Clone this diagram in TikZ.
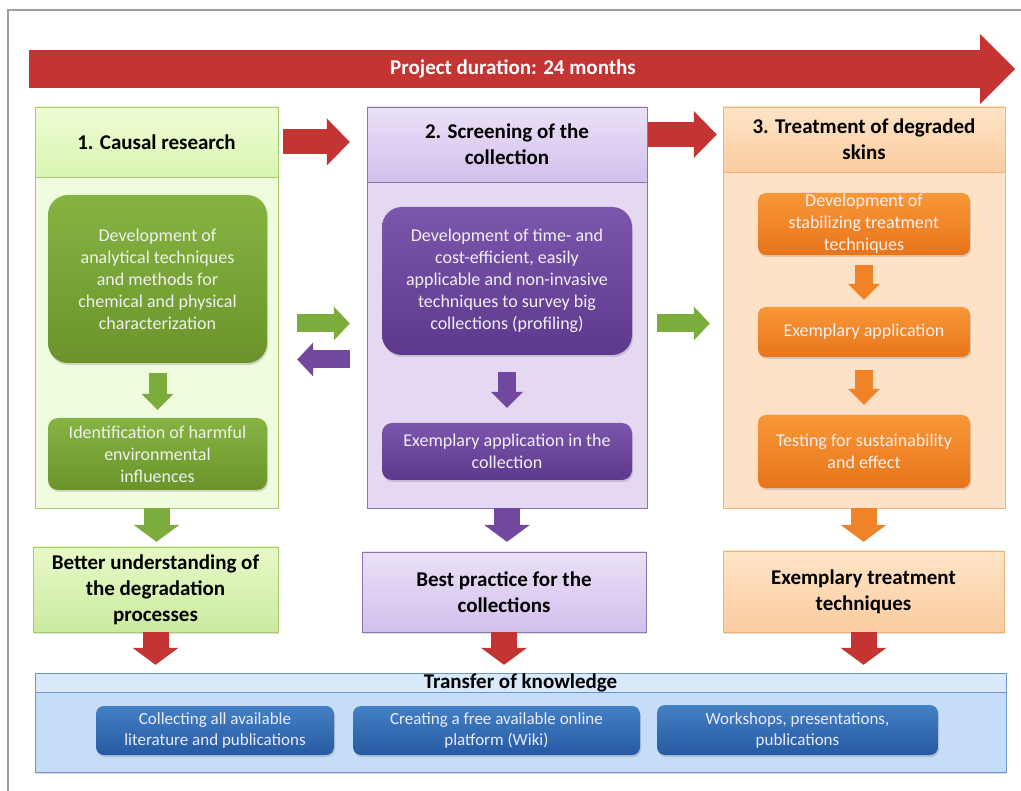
\documentclass[tikz,border=0pt]{standalone}
\usepackage{fontspec}
\setmainfont{Carlito}
\usepackage{tikz}
\usetikzlibrary{arrows.meta,shadows}

\definecolor{arrred}{RGB}{196,52,50}
\definecolor{arrgrn}{RGB}{124,172,60}
\definecolor{arrpur}{RGB}{112,72,160}
\definecolor{arrorg}{RGB}{240,130,40}
\definecolor{grnline}{RGB}{165,205,105}
\definecolor{grnbody}{RGB}{240,252,222}
\definecolor{grnhdtop}{RGB}{238,252,212}
\definecolor{grnhdbot}{RGB}{218,245,178}
\definecolor{grnin}{RGB}{134,180,66}
\definecolor{grnindark}{RGB}{106,148,42}
\definecolor{purline}{RGB}{140,118,178}
\definecolor{purbody}{RGB}{228,216,243}
\definecolor{purhdtop}{RGB}{234,224,247}
\definecolor{purhdbot}{RGB}{210,192,236}
\definecolor{purin}{RGB}{124,86,172}
\definecolor{purindark}{RGB}{94,56,140}
\definecolor{orgline}{RGB}{244,178,120}
\definecolor{orgbody}{RGB}{253,226,200}
\definecolor{orghdtop}{RGB}{254,228,198}
\definecolor{orghdbot}{RGB}{251,204,160}
\definecolor{orgin}{RGB}{248,152,56}
\definecolor{orgindark}{RGB}{232,116,26}
\definecolor{bluline}{RGB}{110,150,205}
\definecolor{blubody}{RGB}{198,221,248}
\definecolor{bluhead}{RGB}{216,233,252}
\definecolor{bluin}{RGB}{68,128,198}
\definecolor{bluindark}{RGB}{38,90,162}

\tikzset{
  box/.style={rectangle, inner sep=0pt, align=center},
  hdr/.style={box, draw, font=\fontsize{21}{26}\selectfont\bfseries},
  inner/.style={box, text=white!94!black, font=\fontsize{18}{22}\selectfont,
    drop shadow={shadow xshift=1pt, shadow yshift=-2pt, opacity=0.3}},
  blueitem/.style={box, rounded corners=8pt, top color=bluin, bottom color=bluindark,
    text=white!92!blue, font=\fontsize{17}{21}\selectfont,
    drop shadow={shadow xshift=1pt, shadow yshift=-2pt, opacity=0.3}},
  result/.style={hdr, drop shadow={shadow xshift=1pt, shadow yshift=-2pt, opacity=0.25}},
  downbig/.style={line width=26pt, -{Triangle[width=46pt,length=17pt,line width=0pt]}},
  downsmall/.style={line width=18pt, -{Triangle[width=32pt,length=16pt,line width=0pt]}},
  sidebig/.style={line width=25pt, -{Triangle[width=47pt,length=23pt,line width=0pt]}},
  sidesmall/.style={line width=18pt, -{Triangle[width=34pt,length=16pt,line width=0pt]}}
}

\begin{document}
\begin{tikzpicture}[x=1pt,y=-1pt]
\useasboundingbox (0,0) rectangle (1021,791);
\fill[white] (0,0) rectangle (1021,791);
\draw[gray!75, line width=1.2pt] (8,791) -- (8,10) -- (1021,10);

% time line
\coordinate (tstart) at (29,69);
\coordinate (tend) at (1015,69);
\draw[arrred, line width=38pt, -{Triangle[width=70pt,length=35pt,line width=0pt]}] (tstart) -- (tend);
\node[text=white, font=\fontsize{21}{26}\selectfont\bfseries] (tlabel) at (513,69) {Project duration: 24 months};

% columns
\node[box, draw=grnline, fill=grnbody, minimum width=243pt, minimum height=401pt] (col1) at (156.5,307.5) {};
\node[hdr, draw=grnline, top color=grnhdtop, bottom color=grnhdbot, minimum width=243pt, minimum height=70pt] (col1head) at (156.5,142) {1. Causal research};
\node[box, draw=purline, fill=purbody, minimum width=280pt, minimum height=401pt] (col2) at (507,307.5) {};
\node[hdr, draw=purline, top color=purhdtop, bottom color=purhdbot, minimum width=280pt, minimum height=75pt] (col2head) at (507,144.5) {2. Screening of the\\collection};
\node[box, draw=orgline, fill=orgbody, minimum width=282pt, minimum height=401pt] (col3) at (864,307.5) {};
\node[hdr, draw=orgline, top color=orghdtop, bottom color=orghdbot, minimum width=282pt, minimum height=65pt] (col3head) at (864,139.5) {3. Treatment of degraded\\skins};

% inner steps
\node[inner, rounded corners=20pt, top color=grnin, bottom color=grnindark, minimum width=219pt, minimum height=168pt] (c1a) at (157.5,279)
  {Development of\\analytical techniques\\and methods for\\chemical and physical\\characterization};
\node[inner, rounded corners=10pt, top color=grnin, bottom color=grnindark, minimum width=219pt, minimum height=72pt] (c1b) at (157.5,454)
  {Identification of harmful\\environmental\\influences};
\node[inner, rounded corners=20pt, top color=purin, bottom color=purindark, minimum width=250pt, minimum height=148pt] (c2a) at (507,281)
  {Development of time- and\\cost-efficient, easily\\applicable and non-invasive\\techniques to survey big\\collections (profiling)};
\node[inner, rounded corners=10pt, top color=purin, bottom color=purindark, minimum width=250pt, minimum height=57pt] (c2b) at (507,451.5)
  {Exemplary application in the\\collection};
\node[inner, rounded corners=8pt, top color=orgin, bottom color=orgindark, minimum width=212pt, minimum height=62pt] (c3a) at (864,224)
  {Development of\\stabilizing treatment\\techniques};
\node[inner, rounded corners=8pt, top color=orgin, bottom color=orgindark, minimum width=212pt, minimum height=50pt] (c3b) at (864,332)
  {Exemplary application};
\node[inner, rounded corners=8pt, top color=orgin, bottom color=orgindark, minimum width=212pt, minimum height=73pt] (c3c) at (864,451.5)
  {Testing for sustainability\\and effect};

\draw[downsmall, arrgrn] (c1a.south) -- (c1b.north) [shorten <=10pt, shorten >=8pt];
\draw[downsmall, arrpur] (c2a.south) -- (c2b.north) [shorten <=17pt, shorten >=15pt];
\draw[downsmall, arrorg] (c3a.south) -- (c3b.north) [shorten <=10pt, shorten >=7pt];
\draw[downsmall, arrorg] (c3b.south) -- (c3c.north) [shorten <=13pt, shorten >=10pt];

% arrows between columns
\draw[sidebig, arrred, shorten <=5pt, shorten >=17pt] (col1head.east) -- (col1head.east -| col2head.west);
\draw[sidebig, arrred, shorten <=1pt, shorten >=6pt] ([yshift=5pt]col3head.west -| col2head.east) -- ([yshift=5pt]col3head.west);
\draw[sidesmall, arrgrn, shorten <=19pt, shorten >=17pt] ([yshift=-16pt]col1.east) -- ([yshift=-16pt]col1.east -| col2.west);
\draw[sidesmall, arrpur, shorten <=17pt, shorten >=19pt] ([yshift=-52pt]col2.west) -- ([yshift=-52pt]col2.west -| col1.east);
\draw[sidesmall, arrgrn, shorten <=10pt, shorten >=13pt] ([yshift=-16pt]col2.east) -- ([yshift=-16pt]col2.east -| col3.west);

% results
\node[result, draw=grnline, top color=grnhdtop!60!grnhdbot, bottom color=grnhdbot!85!arrgrn, minimum width=245pt, minimum height=85pt] (res1) at (155.5,589.5)
  {Better understanding of\\the degradation\\processes};
\node[result, draw=purline, top color=purhdtop, bottom color=purhdbot, minimum width=284pt, minimum height=80pt] (res2) at (504,592)
  {Best practice for the\\collections};
\node[result, draw=orgline, top color=orghdtop, bottom color=orghdbot, minimum width=281pt, minimum height=81pt] (res3) at (863.5,591.5)
  {Exemplary treatment\\techniques};

\draw[downbig, arrgrn, shorten >=5pt] (col1.south) -- (col1.south |- res1.north);
\draw[downbig, arrpur, shorten >=10pt] (col2.south) -- (col2.south |- res2.north);
\draw[downbig, arrorg, shorten >=9pt] (col3.south -| res3.north) -- (res3.north);

% transfer
\node[box, draw=bluline, fill=blubody, minimum width=971pt, minimum height=99pt,
  drop shadow={shadow xshift=1pt, shadow yshift=-2pt, opacity=0.25}] (transfer) at (520.5,722.5) {};
\node[box, draw=bluline, fill=bluhead, minimum width=971pt, minimum height=19pt] (transferhead) at (520.5,682.5) {};
\node[font=\fontsize{21}{26}\selectfont\bfseries] (transferlabel) at (520.5,683) {Transfer of knowledge};

\foreach \res in {res1,res2,res3}
  \draw[downbig, arrred, shorten >=8pt] (\res.south) -- (\res.south |- transfer.north);

\node[blueitem, minimum width=238pt, minimum height=49pt] (b1) at (215,730.5) {Collecting all available\\literature and publications};
\node[blueitem, minimum width=287pt, minimum height=49pt] (b2) at (496.5,730.5) {Creating a free available online\\platform (Wiki)};
\node[blueitem, minimum width=281pt, minimum height=50pt] (b3) at (797.5,730) {Workshops, presentations,\\publications};

\end{tikzpicture}
\end{document}
